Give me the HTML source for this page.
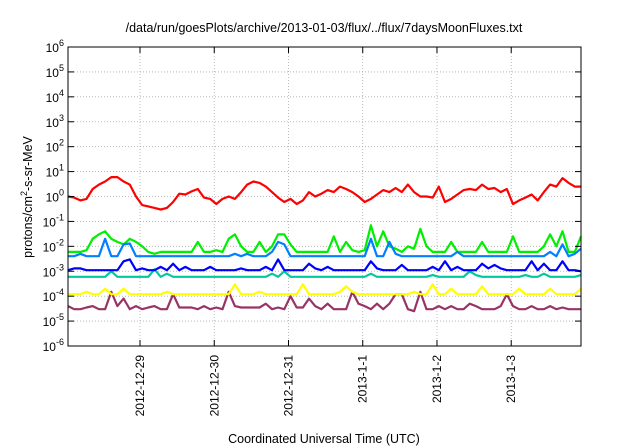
<!DOCTYPE html>
<html><head><meta charset="utf-8"><style>
html,body{margin:0;padding:0;background:#fff;width:640px;height:448px;overflow:hidden}
svg{display:block;font-family:"Liberation Sans",sans-serif}
</style></head><body>
<svg id="chart" width="640" height="448" viewBox="0 0 640 448">
<text x="324" y="32" font-size="12.5" text-anchor="middle">/data/run/goesPlots/archive/2013-01-03/flux/../flux/7daysMoonFluxes.txt</text>
<text x="324" y="443" font-size="12.5" text-anchor="middle">Coordinated Universal Time (UTC)</text>
<text transform="translate(32,197) rotate(-90)" font-size="12.5" text-anchor="middle">protons/cm<tspan dy="-5" font-size="9">2</tspan><tspan dy="5">-s-sr-MeV</tspan></text>
<g id="grid"></g>
<g id="series"></g>
<rect x="68" y="47" width="513" height="299" fill="none" stroke="#000" stroke-width="1"/>
<g id="axes"></g>
</svg>
<script>
const dayLabels = ["2012-12-29","2012-12-30","2012-12-31","2013-1-1","2013-1-2","2013-1-3"];
const dayTicks = [1,2,3,4,5,6];
const yExponents = [-6,-5,-4,-3,-2,-1,0,1,2,3,4,5,6];
const tStart = 0.03, tEnd = 6.94;
const red = [1.0,0.9,0.7,0.8,2,3,4,6,6,4,3,1,0.45,0.4,0.35,0.3,0.35,0.6,1.3,1.2,1.6,2,0.9,0.8,0.5,0.8,1,0.8,1.5,3,4,3.5,2.5,1.5,0.9,0.6,0.8,0.5,0.7,1.5,1,1.3,1.8,1.5,2.5,2,1.5,1,0.6,0.8,1.2,1.8,1.5,2.2,1.5,3,1.5,1,1,0.9,2.5,0.6,0.8,1.2,1.8,2,1.8,3,2,2.2,1.5,2,0.5,0.7,0.9,1.2,0.7,1.5,3,2.5,5.5,3.5,2.5,2.5];
const greenE3 = [6,6,6,7,20,30,40,20,15,12,20,15,10,6,5,6,6,6,6,6,6,15,6,6,7,6,20,30,10,6,6,15,6,10,30,30,12,6,6,6,6,6,6,25,6,15,7,6,7,70,10,40,10,8,6,10,8,50,10,6,6,6,15,6,6,6,6,15,6,6,6,6,25,6,6,6,6,10,30,10,40,6,6,25];
const lightBlueE3 = [4,4,5,4,4,4,20,4,4,12,13,4,4,4,4,4,4,4,4,4,4,4,4,4,4,4,4,5,4,5,4,4,4,6,15,12,4,4,4,4,4,4,4,4,4,4,4,4,4,20,4,4,15,5,4,4,4,4,4,4,4,4,4,6,4,4,4,4,4,4,4,4,4,4,4,4,4,4,6,4,12,4,5,8];
const blueE3 = [1.1,1.3,1.3,1.1,1.1,1.1,1.1,1.1,1.1,2.5,3,1.1,1.3,1.1,1.1,1.5,1.1,2,1.1,1.5,1.1,1.1,1.1,1.5,1.1,1.1,1.1,1.1,1.3,1.1,1.1,1.1,1.5,1.1,3,1.1,1.1,1.1,1.1,2,1.3,1.1,1.5,1.1,1.1,1.1,1.1,1.1,1.1,2.5,1.3,1.1,1.1,1.1,1.8,1.1,1.1,1.1,1.1,1.5,1.1,2.5,1.1,1.5,1.1,1.1,1.1,2,1.3,1.8,1.3,1.1,1.1,1.1,1.1,2.5,1.1,2,1.1,1.1,2.5,1.1,1.1,1.0];
const tealE4 = [6,6,6,6,6,6,6,10,6,6,6,6,6,6,12,6,8,6,6,6,6,6,6,6,6,6,6,6,6,6,6,6,6,8,6,10,6,6,6,6,6,6,6,6,6,6,6,6,6,8,6,6,6,6,6,6,6,6,6,7,6,6,6,6,6,10,7,6,6,6,6,6,6,6,7,6,6,8,6,6,6,6,6,7];
const yellowE4 = [1.2,1.2,1.2,1.5,1.2,1.2,2,1.2,1.2,2,1.2,1.2,1.2,1.2,1.2,1.2,1.5,1.2,1.2,1.2,1.2,1.2,1.2,1.2,1.2,1.2,1.2,3,1.2,1.2,1.2,1.5,1.2,1.2,1.2,1.2,1.2,1.2,3,1.2,1.2,1.2,1.2,1.2,1.5,2.5,1.5,1.2,1.2,1.2,1.2,1.2,1.2,1.2,1.2,1.2,1.5,1.2,1.2,3,1.2,1.2,2,1.2,1.2,1.2,1.2,2.5,1.2,1.2,1.2,1.2,1.2,2,1.2,1.2,1.2,1.2,2,1.2,1.2,1.2,1.2,2];
const purpleE5 = [4,3,3,3.5,4,3,3,15,4,8,3,4,3,3.5,4,3,3,12,3.5,3.5,3.5,3,4,3,3.5,3,15,4,3.5,3.5,3.5,3.5,5,3,3.5,3,10,3.5,3.5,8,4,3,5,3,3,3,15,5,4,3,5,3,5,12,12,3,2.5,15,3,3,4,3,4,3,3,5,4,3,3,3,4,12,4,3,3,4,3,3,4,3,3.5,3,3,3];

const L=68,R=581,T=47,B=346;
const NS="http://www.w3.org/2000/svg";
function xOf(t){return L+(t-tStart)/(tEnd-tStart)*(R-L);}
function yOf(v){return B-(Math.log10(v)+6)/12*(B-T);}
function mk(tag,attrs,parent){const e=document.createElementNS(NS,tag);for(const k in attrs)e.setAttribute(k,attrs[k]);parent.appendChild(e);return e;}
const grid=document.getElementById('grid'), axes=document.getElementById('axes'), ser=document.getElementById('series');

yExponents.forEach(p=>{
  const y=yOf(Math.pow(10,p));
  if(p>-6&&p<6){const g=mk('line',{x1:L,x2:R,y1:y,y2:y,stroke:'#aaa','stroke-width':0.8,'stroke-dasharray':'1,2'},grid);
    
    }
  const t1=mk('line',{x1:L,x2:L+6,y1:y,y2:y,stroke:'#000'},axes);
  
  
  const t2=mk('line',{x1:R-6,x2:R,y1:y,y2:y,stroke:'#000'},axes);
  
  
  const tx=mk('text',{x:64,y:y+5,'font-size':12,'text-anchor':'end'},axes);
  
  
  tx.textContent='10';
  const sp=document.createElementNS(NS,'tspan');sp.setAttribute('dy','-6');sp.setAttribute('font-size','9');sp.textContent=String(p);tx.appendChild(sp);
});
dayTicks.forEach((d,i)=>{
  const x=xOf(d);
  const g=mk('line',{x1:x,x2:x,y1:T,y2:B,stroke:'#aaa','stroke-width':0.8,'stroke-dasharray':'1,2'},grid);
  
  
  const t1=mk('line',{x1:x,x2:x,y1:B-6,y2:B,stroke:'#000'},axes);
  
  
  const t2=mk('line',{x1:x,x2:x,y1:T,y2:T+6,stroke:'#000'},axes);
  
  
  const tx=mk('text',{x:0,y:0,'font-size':12,'text-anchor':'end',transform:`translate(${x+4},${B+9}) rotate(-90)`},axes);
  
  
  tx.textContent=dayLabels[i];
});
const seriesList=[
  [purpleE5,1e-5,'#993366','series-purple'],
  [yellowE4,1e-4,'#ffff00','series-yellow'],
  [tealE4,1e-4,'#00c8a0','series-teal'],
  [greenE3,1e-3,'#00ee00','series-green'],
  [lightBlueE3,1e-3,'#0080ff','series-light-blue'],
  [blueE3,1e-3,'#0000ff','series-blue'],
  [red,1,'#ff0000','series-red']
];
seriesList.forEach(([arr,sc,col,name])=>{
  const n=arr.length;
  const pts=arr.map((v,i)=>xOf(tStart+i*(tEnd-tStart)/(n-1)).toFixed(1)+','+yOf(v*sc).toFixed(1)).join(' ');
  const pl=mk('polyline',{points:pts,fill:'none',stroke:col,'stroke-width':2.2,'stroke-linejoin':'round'},ser);
  
  
});
</script>
</body></html>
